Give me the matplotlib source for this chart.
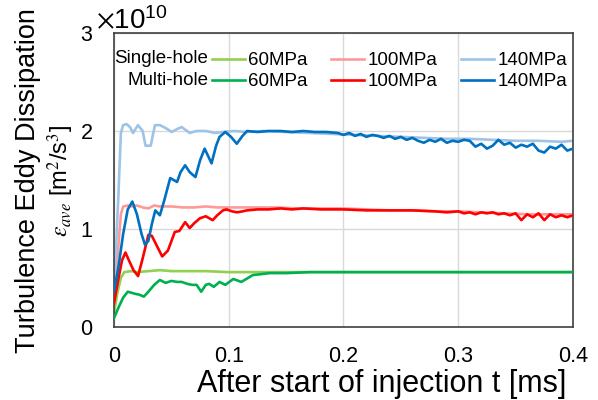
import numpy as np
import matplotlib
matplotlib.use("Agg")
import matplotlib.pyplot as plt
from matplotlib.ticker import ScalarFormatter, FixedLocator, FixedFormatter

plt.rcParams['font.family'] = ['Liberation Sans', 'DejaVu Sans']
plt.rcParams['mathtext.fontset'] = 'stix'

# values in units of 1e10 m2/s3, time in ms
t_s140 = [0, 0.0037, 0.006, 0.008, 0.011, 0.014, 0.0166, 0.0209, 0.025, 0.0275, 0.032, 0.0357,
          0.040, 0.045, 0.0503, 0.055, 0.059, 0.066, 0.072, 0.080, 0.088, 0.095, 0.105, 0.115,
          0.13, 0.15, 0.17, 0.19, 0.21, 0.23, 0.25, 0.27, 0.29, 0.31, 0.33, 0.35, 0.37, 0.39, 0.40]
v_s140 = [0.35, 1.3, 1.98, 2.06, 2.07, 2.04, 1.98, 2.06, 2.0, 1.85, 1.85, 2.06,
          2.06, 2.03, 1.99, 2.02, 2.04, 1.98, 2.0, 2.0, 1.98, 1.99, 2.0, 1.99,
          2.0, 1.99, 1.98, 1.97, 1.96, 1.95, 1.94, 1.93, 1.92, 1.92, 1.91, 1.90, 1.90, 1.89, 1.90]

t_m140 = [0, 0.004, 0.008, 0.012, 0.016, 0.020, 0.024, 0.027, 0.030, 0.033, 0.036, 0.040,
          0.044, 0.049, 0.055, 0.058, 0.062, 0.066, 0.071, 0.075, 0.079, 0.085, 0.089, 0.092,
          0.097, 0.102, 0.107, 0.112, 0.116, 0.125, 0.135, 0.145, 0.155, 0.165, 0.175, 0.185,
          0.195, 0.200, 0.205, 0.210, 0.215, 0.220, 0.225, 0.230, 0.235, 0.240, 0.245, 0.250,
          0.255, 0.260, 0.265, 0.270, 0.275, 0.280, 0.285, 0.290, 0.295, 0.300, 0.305, 0.310,
          0.315, 0.320, 0.325, 0.330, 0.335, 0.340, 0.345, 0.350, 0.355, 0.360, 0.365, 0.370,
          0.375, 0.380, 0.385, 0.390, 0.395, 0.400]
v_m140 = [0.36, 0.62, 0.95, 1.2, 1.28, 1.15, 0.95, 0.84, 0.88, 1.05, 1.19, 1.14,
          1.3, 1.52, 1.48, 1.58, 1.65, 1.58, 1.53, 1.70, 1.82, 1.67, 1.85, 1.94,
          1.99, 1.94, 1.87, 1.95, 2.0, 1.99, 2.0, 2.0, 1.99, 2.0, 1.99, 1.99,
          1.98, 1.96, 1.98, 1.95, 1.97, 1.94, 1.96, 1.95, 1.93, 1.95, 1.92, 1.94,
          1.91, 1.93, 1.90, 1.88, 1.91, 1.89, 1.92, 1.88, 1.90, 1.89, 1.91, 1.90,
          1.84, 1.87, 1.82, 1.85, 1.91, 1.86, 1.88, 1.83, 1.86, 1.84, 1.87, 1.80,
          1.78, 1.84, 1.82, 1.86, 1.80, 1.82]

t_s100 = [0, 0.003, 0.006, 0.008, 0.012, 0.016, 0.02, 0.025, 0.03, 0.035, 0.04, 0.05,
          0.06, 0.07, 0.08, 0.09, 0.10, 0.12, 0.14, 0.16, 0.18, 0.20, 0.22, 0.24,
          0.26, 0.28, 0.30, 0.32, 0.34, 0.36, 0.38, 0.40]
v_s100 = [0.28, 0.7, 1.15, 1.23, 1.24, 1.23, 1.24, 1.22, 1.21, 1.24, 1.23, 1.23,
          1.22, 1.22, 1.23, 1.22, 1.22, 1.22, 1.22, 1.21, 1.21, 1.21, 1.20, 1.19,
          1.19, 1.18, 1.18, 1.17, 1.16, 1.15, 1.15, 1.15]

t_m100 = [0, 0.004, 0.007, 0.010, 0.013, 0.017, 0.021, 0.025, 0.030, 0.033, 0.036, 0.042,
          0.047, 0.053, 0.057, 0.062, 0.066, 0.070, 0.075, 0.080, 0.086, 0.090, 0.095, 0.098,
          0.103, 0.107, 0.112, 0.116, 0.125, 0.135, 0.145, 0.155, 0.165, 0.18, 0.20, 0.22,
          0.24, 0.26, 0.28, 0.29, 0.30, 0.305, 0.31, 0.315, 0.32, 0.325, 0.33, 0.335,
          0.34, 0.345, 0.35, 0.355, 0.36, 0.365, 0.37, 0.375, 0.38, 0.385, 0.39, 0.395, 0.40]
v_m100 = [0.24, 0.5, 0.68, 0.76, 0.68, 0.58, 0.52, 0.7, 0.94, 0.93, 0.86, 0.72,
          0.78, 0.97, 0.98, 1.07, 1.01, 1.06, 1.11, 1.13, 1.09, 1.14, 1.19, 1.20,
          1.18, 1.17, 1.18, 1.19, 1.20, 1.20, 1.21, 1.20, 1.21, 1.20, 1.20, 1.19,
          1.19, 1.19, 1.18, 1.17, 1.18, 1.16, 1.17, 1.15, 1.17, 1.16, 1.17, 1.15,
          1.16, 1.14, 1.16, 1.09, 1.15, 1.12, 1.16, 1.09, 1.15, 1.12, 1.14, 1.12, 1.14]

t_s60 = [0, 0.003, 0.006, 0.009, 0.015, 0.02, 0.03, 0.04, 0.05, 0.06, 0.08, 0.10,
         0.12, 0.15, 0.2, 0.25, 0.3, 0.35, 0.4]
v_s60 = [0.14, 0.35, 0.5, 0.56, 0.57, 0.56, 0.57, 0.58, 0.57, 0.57, 0.57, 0.56,
         0.56, 0.56, 0.56, 0.56, 0.56, 0.56, 0.56]

t_m60 = [0, 0.004, 0.008, 0.012, 0.018, 0.022, 0.026, 0.030, 0.035, 0.040, 0.045, 0.050,
         0.055, 0.059, 0.064, 0.068, 0.072, 0.076, 0.080, 0.083, 0.087, 0.092, 0.097, 0.104,
         0.111, 0.121, 0.136, 0.15, 0.171, 0.2, 0.25, 0.3, 0.35, 0.4]
v_m60 = [0.09, 0.2, 0.3, 0.36, 0.34, 0.33, 0.31, 0.36, 0.43, 0.48, 0.45, 0.47,
         0.46, 0.46, 0.44, 0.43, 0.43, 0.36, 0.43, 0.44, 0.41, 0.46, 0.43, 0.49,
         0.46, 0.53, 0.55, 0.55, 0.56, 0.56, 0.56, 0.56, 0.56, 0.56]

pressures = ["60MPa", "100MPa", "140MPa"]
single = [(t_s60, v_s60), (t_s100, v_s100), (t_s140, v_s140)]
multi = [(t_m60, v_m60), (t_m100, v_m100), (t_m140, v_m140)]
c_single = ['#92D050', '#FF9999', '#9DC3E6']
c_multi = ['#00B050', '#FF0000', '#0070C0']

xticks = [0, 0.1, 0.2, 0.3, 0.4]
xtick_labels = ["0", "0.1", "0.2", "0.3", "0.4"]
yticks = [0, 1e10, 2e10, 3e10]

fig = plt.figure(figsize=(5.98, 4.0), dpi=100)
ax = fig.add_axes([0.1906, 0.1825, 0.7676, 0.735])

handles = []
for i in range(3):
    hs, = ax.plot(single[i][0], np.array(single[i][1]) * 1e10, color=c_single[i], lw=1.9,
                  label=pressures[i], zorder=2)
    hm, = ax.plot(multi[i][0], np.array(multi[i][1]) * 1e10, color=c_multi[i], lw=1.9,
                  label=pressures[i], zorder=3)
    handles += [hs, hm]

ax.set_xlim(0, 0.4)
ax.set_ylim(0, 3e10)
ax.xaxis.set_major_locator(FixedLocator(xticks))
ax.xaxis.set_major_formatter(FixedFormatter(xtick_labels))
ax.yaxis.set_major_locator(FixedLocator(yticks))
fmt = ScalarFormatter(useMathText=True)
fmt.set_powerlimits((0, 0))
ax.yaxis.set_major_formatter(fmt)
ax.yaxis.get_offset_text().set_fontsize(20)
ax.yaxis.get_offset_text().set_x(-0.04)

ax.tick_params(length=0, labelsize=15.5)
ax.tick_params(axis='x', pad=14)
ax.tick_params(axis='y', pad=15)
ax.grid(True, color='#d9d9d9', lw=1)
ax.set_axisbelow(True)
for s in ax.spines.values():
    s.set_color('#404040')
    s.set_linewidth(1.2)

leg = ax.legend(handles=handles, ncol=3, frameon=False, fontsize=13.5,
                loc='upper left', bbox_to_anchor=(0.213, 0.935), borderpad=0,
                borderaxespad=0, handlelength=1.75, handletextpad=0.2,
                columnspacing=1.25, labelspacing=0.2)
ax.text(0.205, 0.912, "Single-hole", transform=ax.transAxes, ha='right', va='center', fontsize=13.5)
ax.text(0.205, 0.837, "Multi-hole", transform=ax.transAxes, ha='right', va='center', fontsize=13.5)

fig.text(382 / 598, 0.02, "After start of injection t [ms]", ha='center', va='baseline', fontsize=22)
fig.text(28 / 598, 0.5475, "Turbulence Eddy Dissipation", rotation=90, ha='center', va='center',
         fontsize=19.5)
fig.text(61 / 598, 0.5475, "$\\varepsilon_{ave}$ [m$^2$/s$^3$]", rotation=90, ha='center',
         va='center', fontsize=17)

fig.savefig("out.png", dpi=100)
